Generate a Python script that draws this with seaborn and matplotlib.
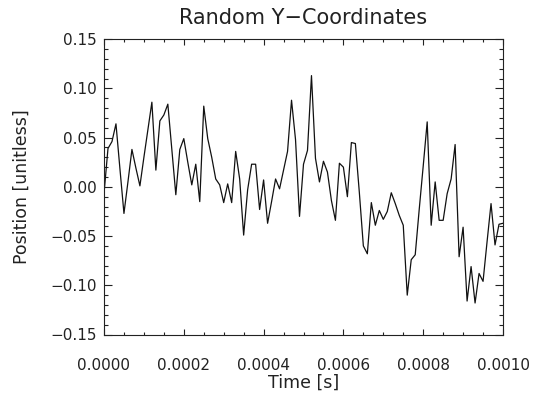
import numpy as np
import pandas as pd
import matplotlib
matplotlib.use("Agg")
import matplotlib.pyplot as plt
from matplotlib.ticker import MultipleLocator, FuncFormatter
import seaborn as sns

# Sample times [s] and random y positions
time_s = np.linspace(0.0, 0.001, 101)
position = [
    -0.007, 0.039, 0.046, 0.064, 0.018, -0.027, 0.005, 0.038, 0.019, 0.001,
    0.030, 0.058, 0.086, 0.017, 0.067, 0.073, 0.084, 0.038, -0.008, 0.038,
    0.049, 0.025, 0.002, 0.023, -0.015, 0.082, 0.049, 0.030, 0.008, 0.002,
    -0.016, 0.003, -0.016, 0.036, 0.008, -0.049, -0.003, 0.023, 0.023, -0.023,
    0.007, -0.037, -0.015, 0.008, -0.002, 0.017, 0.036, 0.088, 0.048, -0.030,
    0.023, 0.037, 0.113, 0.029, 0.005, 0.026, 0.015, -0.014, -0.034, 0.024,
    0.020, -0.010, 0.045, 0.044, -0.006, -0.060, -0.068, -0.016, -0.039, -0.024,
    -0.033, -0.025, -0.006, -0.017, -0.029, -0.039, -0.110, -0.074, -0.069, -0.023,
    0.021, 0.066, -0.039, 0.005, -0.034, -0.034, -0.007, 0.008, 0.043, -0.071,
    -0.041, -0.116, -0.081, -0.118, -0.088, -0.096, -0.056, -0.017, -0.059, -0.038,
    -0.037,
]
x_ticks = [0.0, 0.0002, 0.0004, 0.0006, 0.0008, 0.0010]
y_ticks = [-0.15, -0.10, -0.05, 0.00, 0.05, 0.10, 0.15]

title = "Random Y\u2212Coordinates"
x_label = "Time [s]"
y_label = "Position [unitless]"

sns.set_theme(style="white")
plt.rcParams["font.family"] = ["DejaVu Sans"]
plt.rcParams["axes.unicode_minus"] = True

W, H = 539, 395
fig = plt.figure(figsize=(W / 100, H / 100), dpi=100)
fig.patch.set_facecolor("white")

left_px, right_px, top_px, bottom_px = 104, 503, 39.2, 334.5
ax = fig.add_axes([left_px / W, 1 - bottom_px / H,
                   (right_px - left_px) / W, (bottom_px - top_px) / H])
ax.set_facecolor("white")

df = pd.DataFrame({"t": time_s, "y": position})
sns.lineplot(data=df, x="t", y="y", ax=ax, color="#111111", linewidth=0.9)

ax.set_xlim(0.0, 0.001)
ax.set_ylim(-0.15, 0.15)

ink = "#222222"
for s in ax.spines.values():
    s.set_color(ink)
    s.set_linewidth(0.8)
    s.set_visible(True)

ax.xaxis.set_minor_locator(MultipleLocator(0.00005))
ax.yaxis.set_minor_locator(MultipleLocator(0.01))
ax.set_xticks(x_ticks)
ax.set_yticks(y_ticks)


def fmt(decimals):
    def f(v, pos):
        if abs(v) < 1e-12:
            v = 0.0
        return f"{v:.{decimals}f}".replace("-", "\u2212")
    return FuncFormatter(f)


ax.xaxis.set_major_formatter(fmt(4))
ax.yaxis.set_major_formatter(fmt(2))

ax.tick_params(axis="both", which="both", direction="in", top=True, right=True,
               bottom=True, left=True, colors=ink, labelcolor=ink, width=0.8)
ax.tick_params(axis="x", which="major", length=4.3, pad=17, labelsize=11)
ax.tick_params(axis="x", which="minor", length=2.2)
ax.tick_params(axis="y", which="major", length=5.8, pad=5, labelsize=11)
ax.tick_params(axis="y", which="minor", length=2.9)

ax.set_xlabel(x_label, fontsize=12.5, color=ink)
ax.set_ylabel(y_label, fontsize=12.5, color=ink)
ax.xaxis.set_label_coords(0.5, (bottom_px - 383) / (bottom_px - top_px))
ax.yaxis.set_label_coords((22 - left_px) / (right_px - left_px), 0.5)
ax.xaxis.label.set_va("center")
ax.yaxis.label.set_va("center")
ax.set_title(title, fontsize=15, color=ink, va="center", pad=0,
             y=(bottom_px - 18) / (bottom_px - top_px))

fig.savefig("out.png", dpi=100, facecolor="white")
